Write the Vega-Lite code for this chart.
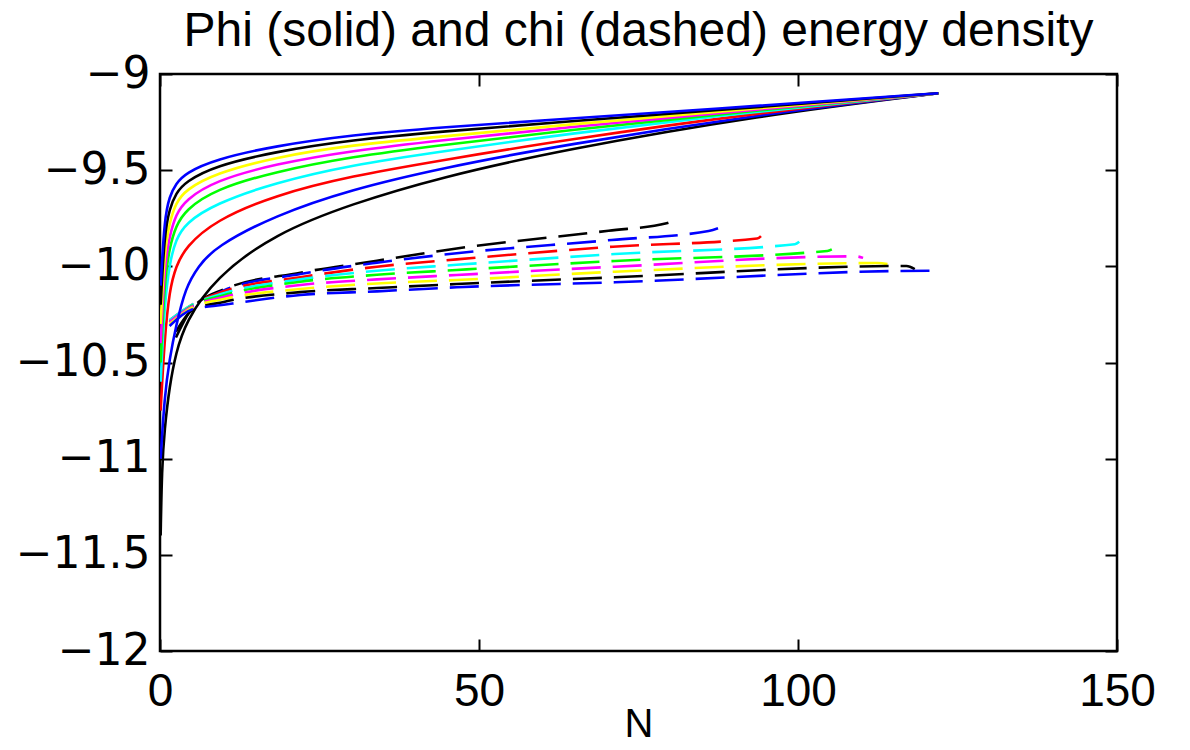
{
  "$schema": "https://vega.github.io/schema/vega-lite/v6.json",
  "width": 957,
  "height": 577,
  "autosize": {"type": "none"},
  "padding": {"left": 160, "top": 74, "right": 73, "bottom": 99},
  "background": "white",
  "title": {"text": "Phi (solid) and chi (dashed) energy density", "font": "Liberation Sans", "fontSize": 48, "fontWeight": "normal", "color": "black", "offset": -4},
  "datasets": {
    "phi": [
      {"r":1,"N":0.1,"v":-11.4},{"r":1,"N":0.3,"v":-11.05},{"r":1,"N":0.7,"v":-10.85},{"r":1,"N":1.5,"v":-10.62},{"r":1,"N":2.5,"v":-10.45},{"r":1,"N":4,"v":-10.29},{"r":1,"N":8.6,"v":-10.06},{"r":1,"N":18,"v":-9.83},{"r":1,"N":30,"v":-9.675},{"r":1,"N":44,"v":-9.537},{"r":1,"N":63,"v":-9.395},{"r":1,"N":94,"v":-9.215},{"r":1,"N":122,"v":-9.1},
      {"r":2,"N":0.1,"v":-11.0},{"r":2,"N":0.7,"v":-10.68},{"r":2,"N":1.5,"v":-10.48},{"r":2,"N":2.5,"v":-10.31},{"r":2,"N":4,"v":-10.11},{"r":2,"N":6,"v":-10.0},{"r":2,"N":8.6,"v":-9.9},{"r":2,"N":18,"v":-9.735},{"r":2,"N":30,"v":-9.6},{"r":2,"N":44,"v":-9.49},{"r":2,"N":63,"v":-9.37},{"r":2,"N":94,"v":-9.21},{"r":2,"N":122,"v":-9.1},
      {"r":3,"N":0.1,"v":-10.75},{"r":3,"N":0.7,"v":-10.38},{"r":3,"N":1.5,"v":-10.12},{"r":3,"N":2.5,"v":-10.0},{"r":3,"N":4,"v":-9.9},{"r":3,"N":8.6,"v":-9.762},{"r":3,"N":18,"v":-9.63},{"r":3,"N":30,"v":-9.53},{"r":3,"N":44,"v":-9.45},{"r":3,"N":63,"v":-9.345},{"r":3,"N":94,"v":-9.2},{"r":3,"N":122,"v":-9.1},
      {"r":4,"N":0.1,"v":-10.6},{"r":4,"N":0.7,"v":-10.2},{"r":4,"N":1.5,"v":-9.98},{"r":4,"N":2.5,"v":-9.86},{"r":4,"N":4,"v":-9.776},{"r":4,"N":8.6,"v":-9.675},{"r":4,"N":18,"v":-9.565},{"r":4,"N":30,"v":-9.473},{"r":4,"N":44,"v":-9.404},{"r":4,"N":63,"v":-9.314},{"r":4,"N":94,"v":-9.193},{"r":4,"N":122,"v":-9.1},
      {"r":5,"N":0.1,"v":-10.5},{"r":5,"N":0.7,"v":-10.08},{"r":5,"N":1.5,"v":-9.9},{"r":5,"N":2.5,"v":-9.79},{"r":5,"N":4,"v":-9.707},{"r":5,"N":8.6,"v":-9.6},{"r":5,"N":18,"v":-9.508},{"r":5,"N":30,"v":-9.43},{"r":5,"N":44,"v":-9.37},{"r":5,"N":63,"v":-9.295},{"r":5,"N":94,"v":-9.188},{"r":5,"N":122,"v":-9.1},
      {"r":6,"N":0.1,"v":-10.4},{"r":6,"N":0.7,"v":-10.0},{"r":6,"N":1.5,"v":-9.84},{"r":6,"N":2.5,"v":-9.73},{"r":6,"N":4,"v":-9.655},{"r":6,"N":8.6,"v":-9.555},{"r":6,"N":18,"v":-9.468},{"r":6,"N":30,"v":-9.399},{"r":6,"N":44,"v":-9.345},{"r":6,"N":63,"v":-9.279},{"r":6,"N":94,"v":-9.183},{"r":6,"N":122,"v":-9.1},
      {"r":7,"N":0.1,"v":-10.3},{"r":7,"N":0.7,"v":-9.92},{"r":7,"N":1.5,"v":-9.77},{"r":7,"N":2.5,"v":-9.67},{"r":7,"N":4,"v":-9.603},{"r":7,"N":8.6,"v":-9.517},{"r":7,"N":18,"v":-9.433},{"r":7,"N":30,"v":-9.369},{"r":7,"N":44,"v":-9.326},{"r":7,"N":63,"v":-9.265},{"r":7,"N":94,"v":-9.178},{"r":7,"N":122,"v":-9.1},
      {"r":8,"N":0.1,"v":-10.2},{"r":8,"N":0.7,"v":-9.83},{"r":8,"N":1.5,"v":-9.7},{"r":8,"N":2.5,"v":-9.62},{"r":8,"N":4,"v":-9.56},{"r":8,"N":8.6,"v":-9.478},{"r":8,"N":18,"v":-9.404},{"r":8,"N":30,"v":-9.343},{"r":8,"N":44,"v":-9.3},{"r":8,"N":63,"v":-9.248},{"r":8,"N":94,"v":-9.172},{"r":8,"N":122,"v":-9.1},
      {"r":9,"N":0.1,"v":-10.1},{"r":9,"N":0.7,"v":-9.75},{"r":9,"N":1.5,"v":-9.635},{"r":9,"N":2.5,"v":-9.57},{"r":9,"N":4,"v":-9.515},{"r":9,"N":8.6,"v":-9.444},{"r":9,"N":18,"v":-9.374},{"r":9,"N":30,"v":-9.317},{"r":9,"N":44,"v":-9.277},{"r":9,"N":63,"v":-9.234},{"r":9,"N":94,"v":-9.165},{"r":9,"N":122,"v":-9.1}
    ],
    "chi": [
      {"r":1,"N":2.5,"v":-10.37},{"r":1,"N":5,"v":-10.22},{"r":1,"N":10,"v":-10.12},{"r":1,"N":22,"v":-10.033},{"r":1,"N":34,"v":-9.971},{"r":1,"N":46.5,"v":-9.907},{"r":1,"N":70.3,"v":-9.815},{"r":1,"N":79.4,"v":-9.776},{"r":1,"N":80.5,"v":-9.763},
      {"r":2,"N":1.5,"v":-10.29},{"r":2,"N":5,"v":-10.21},{"r":2,"N":10,"v":-10.125},{"r":2,"N":22,"v":-10.04},{"r":2,"N":34,"v":-9.981},{"r":2,"N":46.5,"v":-9.932},{"r":2,"N":70.8,"v":-9.863},{"r":2,"N":86,"v":-9.816},{"r":2,"N":87.9,"v":-9.797},
      {"r":3,"N":1.5,"v":-10.28},{"r":3,"N":5,"v":-10.2},{"r":3,"N":10,"v":-10.13},{"r":3,"N":22,"v":-10.057},{"r":3,"N":34,"v":-10.002},{"r":3,"N":46.5,"v":-9.964},{"r":3,"N":71,"v":-9.898},{"r":3,"N":93.6,"v":-9.855},{"r":3,"N":94.5,"v":-9.832},
      {"r":4,"N":1.5,"v":-10.28},{"r":4,"N":5,"v":-10.2},{"r":4,"N":10,"v":-10.14},{"r":4,"N":22,"v":-10.068},{"r":4,"N":34,"v":-10.023},{"r":4,"N":46.5,"v":-9.992},{"r":4,"N":71.3,"v":-9.936},{"r":4,"N":99.5,"v":-9.885},{"r":4,"N":100.2,"v":-9.872},
      {"r":5,"N":1.5,"v":-10.29},{"r":5,"N":5,"v":-10.205},{"r":5,"N":10,"v":-10.15},{"r":5,"N":22,"v":-10.08},{"r":5,"N":34,"v":-10.044},{"r":5,"N":46.5,"v":-10.019},{"r":5,"N":71.3,"v":-9.972},{"r":5,"N":104.6,"v":-9.92},{"r":5,"N":105.3,"v":-9.912},
      {"r":6,"N":1.5,"v":-10.29},{"r":6,"N":5,"v":-10.21},{"r":6,"N":10,"v":-10.16},{"r":6,"N":22,"v":-10.097},{"r":6,"N":34,"v":-10.068},{"r":6,"N":46.5,"v":-10.045},{"r":6,"N":71.3,"v":-10.002},{"r":6,"N":109,"v":-9.948},{"r":6,"N":110.2,"v":-9.956},
      {"r":7,"N":1.5,"v":-10.3},{"r":7,"N":5,"v":-10.215},{"r":7,"N":10,"v":-10.17},{"r":7,"N":22,"v":-10.118},{"r":7,"N":34,"v":-10.089},{"r":7,"N":46.5,"v":-10.071},{"r":7,"N":71.3,"v":-10.028},{"r":7,"N":112.5,"v":-9.983},{"r":7,"N":114.3,"v":-9.99},
      {"r":8,"N":2.5,"v":-10.34},{"r":8,"N":5,"v":-10.23},{"r":8,"N":10,"v":-10.185},{"r":8,"N":22,"v":-10.134},{"r":8,"N":34,"v":-10.113},{"r":8,"N":46.5,"v":-10.092},{"r":8,"N":71.3,"v":-10.057},{"r":8,"N":117,"v":-9.998},{"r":8,"N":118.3,"v":-10.014},
      {"r":9,"N":1.5,"v":-10.31},{"r":9,"N":5,"v":-10.225},{"r":9,"N":10,"v":-10.2},{"r":9,"N":22,"v":-10.149},{"r":9,"N":34,"v":-10.13},{"r":9,"N":46.5,"v":-10.109},{"r":9,"N":71.3,"v":-10.083},{"r":9,"N":120.6,"v":-10.023},{"r":9,"N":121.8,"v":-10.04}
    ]
  },
  "layer": [
    {
      "data": {"name": "chi"},
      "mark": {"type": "line", "strokeWidth": 2.6, "strokeDash": [29, 12], "interpolate": "monotone", "clip": true},
      "encoding": {
        "x": {"field": "N", "type": "quantitative", "scale": {"domain": [0, 150], "nice": false}, "axis": {"orient": "top", "values": [0, 50, 100, 150], "labels": false, "title": null}},
        "y": {"field": "v", "type": "quantitative", "scale": {"domain": [-12, -9], "nice": false, "zero": false}, "axis": {"orient": "right", "values": [-12, -11.5, -11, -10.5, -10, -9.5, -9], "labels": false, "title": null}},
        "color": {"field": "r", "type": "nominal", "scale": {"domain": [1,2,3,4,5,6,7,8,9], "range": ["#000000", "#0000ff", "#ff0000", "#00ffff", "#00ff00", "#ff00ff", "#ffff00", "#000000", "#0000ff"]}, "legend": null}
      }
    },
    {
      "data": {"name": "phi"},
      "mark": {"type": "line", "strokeWidth": 2.6, "interpolate": "basis", "clip": true},
      "encoding": {
        "x": {"field": "N", "type": "quantitative", "scale": {"domain": [0, 150], "nice": false}, "axis": {"orient": "bottom", "values": [0, 50, 100, 150], "title": "N", "labelPadding": 30, "titlePadding": -10, "titleFontSize": 40}},
        "y": {"field": "v", "type": "quantitative", "scale": {"domain": [-12, -9], "nice": false, "zero": false}, "axis": {"orient": "left", "values": [-12, -11.5, -11, -10.5, -10, -9.5, -9], "format": "~g", "title": null, "labelPadding": 22, "labelFont": "DejaVu Sans", "labelFontSize": 44}},
        "color": {"field": "r", "type": "nominal", "scale": {"domain": [1,2,3,4,5,6,7,8,9], "range": ["#000000", "#0000ff", "#ff0000", "#00ffff", "#00ff00", "#ff00ff", "#ffff00", "#000000", "#0000ff"]}, "legend": null}
      }
    }
  ],
  "resolve": {"axis": {"x": "independent", "y": "independent"}},
  "config": {
    "view": {"stroke": "black", "strokeWidth": 2.5},
    "axis": {"grid": false, "domain": false, "ticks": true, "tickColor": "black", "tickWidth": 2, "tickSize": -12, "labelFont": "Liberation Sans", "labelFontSize": 46, "labelColor": "black", "labelPadding": 8, "titleFont": "Liberation Sans", "titleFontSize": 46, "titleFontWeight": "normal", "titleColor": "black", "labelFlush": false, "labelOverlap": false}
  }
}
